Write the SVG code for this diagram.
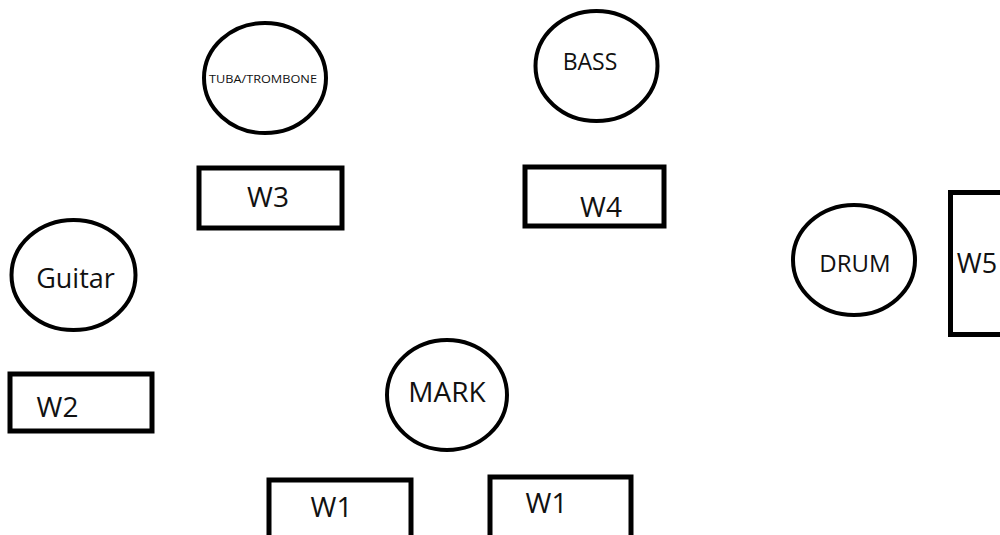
<svg xmlns="http://www.w3.org/2000/svg" width="1000" height="535" viewBox="0 0 1000 535">
<style>
.n{fill:none;stroke:#000;stroke-width:4}
.b{fill:none;stroke:#000;stroke-width:5}
.t{font-family:"Open Sans","Noto Sans","Liberation Sans",sans-serif;fill:#111;text-anchor:middle}
</style>
<rect width="1000" height="535" fill="#fff"/>
<g id="connectors"></g>
<g id="tuba"><ellipse class="n" cx="265" cy="78" rx="61" ry="55"/><text class="t" x="263" y="83" font-size="11" textLength="108" lengthAdjust="spacingAndGlyphs">TUBA/TROMBONE</text></g>
<g id="w3"><rect class="b" x="199" y="168" width="143" height="60"/><text class="t" x="268" y="207" font-size="28">W3</text></g>
<g id="bass"><ellipse class="n" cx="596.5" cy="66" rx="61" ry="55"/><text class="t" x="590" y="70" font-size="23">BASS</text></g>
<g id="w4"><rect class="b" x="525" y="167" width="139" height="59"/><text class="t" x="601" y="217" font-size="28">W4</text></g>
<g id="drum"><ellipse class="n" cx="854" cy="260" rx="61" ry="55"/><text class="t" x="855" y="272" font-size="24">DRUM</text></g>
<g id="w5"><rect class="b" x="950.5" y="192.5" width="70" height="142"/><text class="t" x="977" y="273" font-size="27">W5</text></g>
<g id="guitar"><ellipse class="n" cx="73.5" cy="275" rx="62" ry="55"/><text class="t" x="75.5" y="288" font-size="27">Guitar</text></g>
<g id="w2"><rect class="b" x="10" y="374" width="142" height="57"/><text class="t" x="57.5" y="417" font-size="28">W2</text></g>
<g id="mark"><ellipse class="n" cx="447" cy="395" rx="60" ry="55"/><text class="t" x="447" y="402" font-size="28">MARK</text></g>
<g id="w1a"><rect class="b" x="269" y="480" width="142" height="80"/><text class="t" x="331.5" y="517" font-size="28">W1</text></g>
<g id="w1b"><rect class="b" x="490" y="477" width="141" height="80"/><text class="t" x="546.5" y="513" font-size="28">W1</text></g>
</svg>
